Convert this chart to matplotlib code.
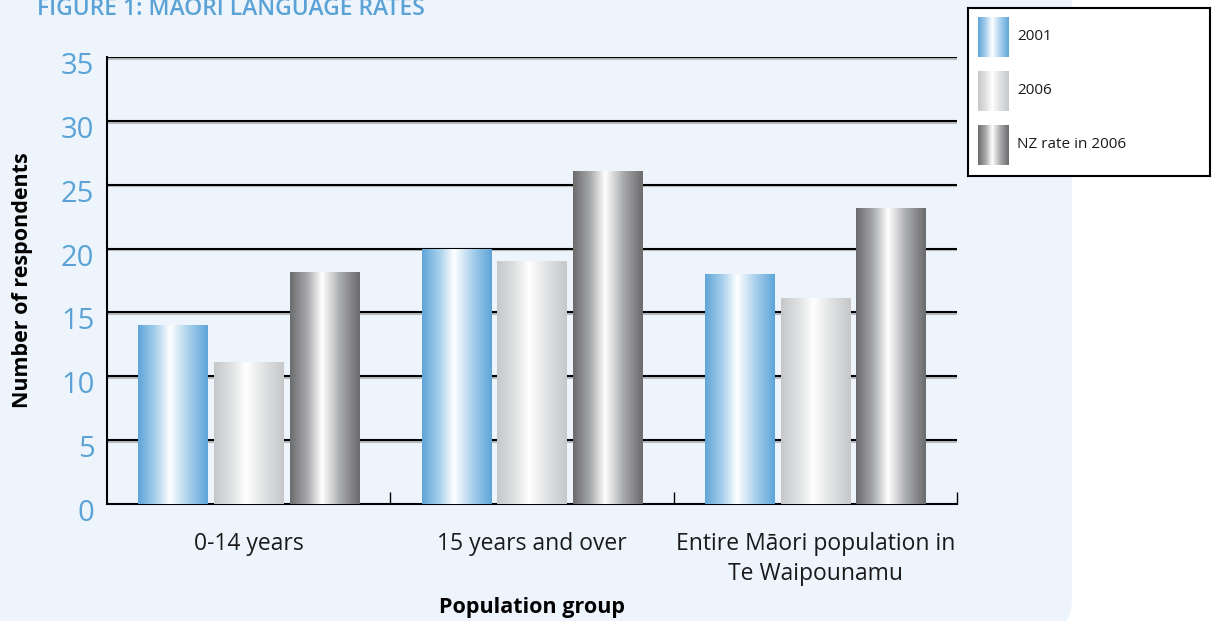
import numpy as np
import matplotlib
matplotlib.use("Agg")
import matplotlib.pyplot as plt
import matplotlib.patheffects as pe
import matplotlib.transforms as mtransforms
from matplotlib.colors import LinearSegmentedColormap
from matplotlib.patches import FancyBboxPatch, Rectangle

plt.rcParams['font.family'] = ['Open Sans', 'DejaVu Sans']

groups = ["0-14 years", "15 years and over", "Entire M\u0101ori population in\nTe Waipounamu"]
series = ["2001", "2006", "NZ rate in 2006"]
rate_2001 = [14, 20, 18]
rate_2006 = [11.1, 19, 16.1]
rate_nz = [18.2, 26.1, 23.2]
values = [rate_2001, rate_2006, rate_nz]

blue = "#5BA3D6"
# edge colour, mid tone for each cylinder-style gradient
shades = [("#5ea5d8", "#a9d0ec"), ("#c6c7c9", "#e0e1e2"), ("#6b6b6d", "#a9aaac")]


def make_cmap(edge, mid):
    return LinearSegmentedColormap.from_list(
        "g", [(0, edge), (0.25, mid), (0.46, "#ffffff"), (0.72, mid), (1, edge)])


W, H = 1216, 621
fig = plt.figure(figsize=(W / 100, H / 100), dpi=100)
fig.patch.set_facecolor("white")

# light blue panel with rounded lower-right corner
panel = FancyBboxPatch((-40, -12), 40 + 1072, H + 60,
                       boxstyle="round,pad=0,rounding_size=34",
                       transform=None, facecolor="#edf4fb",
                       edgecolor="none", zorder=-5)
fig.patches.append(panel)

fig.text(37 / W, 1 - 15 / H, "FIGURE 1: M\u0100ORI LANGUAGE RATES", color=blue,
         fontsize=16.5, fontweight="semibold", va="baseline", ha="left")

ax = fig.add_axes([107 / W, 1 - 504 / H, 850 / W, 447 / H])
ax.set_facecolor("none")

width = 0.244
step = 0.267
x = np.arange(len(groups)) + 0.5
grad = np.linspace(0, 1, 256).reshape(1, -1)
for i, vals in enumerate(values):
    cmap = make_cmap(*shades[i])
    bars = ax.bar(x + (i - 1) * step, vals, width, color="none", zorder=3)
    for b in bars:
        x0, y0 = b.get_x(), b.get_y()
        im = ax.imshow(grad, cmap=cmap, aspect="auto", zorder=3,
                       extent=[x0, x0 + b.get_width(), y0, y0 + b.get_height()])
        im.set_clip_path(b)
ax.set_xlim(0, 3)
ax.set_ylim(0, 35)

# horizontal rules with a soft grey shadow
for yv in range(5, 40, 5):
    ax.axhline(yv, color="black", lw=1.5, zorder=1,
               path_effects=[pe.SimpleLineShadow(offset=(0, -1.2), shadow_color="#b8bcc0", alpha=1),
                             pe.Normal()])

for s in ["top", "right"]:
    ax.spines[s].set_visible(False)
ax.spines["left"].set_linewidth(1.5)
ax.spines["bottom"].set_linewidth(1.5)

ax.set_yticks(range(0, 40, 5))
ax.tick_params(axis="y", length=0, labelsize=21, labelcolor=blue, pad=9)
# numbers sit a little below their rules
shift = mtransforms.ScaledTranslation(0, -6 / 100, fig.dpi_scale_trans)
for lab in ax.get_yticklabels():
    lab.set_transform(lab.get_transform() + shift)
ax.set_xticks(x)
ax.set_xticklabels(groups, fontsize=16.5, color="#1a1a1a", linespacing=1.35)
ax.tick_params(axis="x", which="major", length=0, pad=20)
ax.set_xticks([1, 2, 3], minor=True)
ax.tick_params(axis="x", which="minor", direction="in", length=9, width=1)

ax.set_ylabel("Number of respondents", fontsize=15.5, fontweight="bold")
ax.set_xlabel("Population group", fontsize=15.5, fontweight="bold", labelpad=8)
ax.yaxis.set_label_coords(-0.087, 0.5)

# legend box
lg = fig.add_axes([968 / W, 1 - 176 / H, 242 / W, 168 / H])
lg.set_facecolor("white")
for sp in lg.spines.values():
    sp.set_linewidth(1.5)
for i, name in enumerate(series):
    top = 9 + i * 54
    r = Rectangle((10, top), 31, 40, facecolor="none", edgecolor="none")
    lg.add_patch(r)
    im = lg.imshow(grad, cmap=make_cmap(*shades[i]), aspect="auto",
                   extent=[10, 41, top + 40, top])
    im.set_clip_path(r)
    lg.text(49, top + 20, name, fontsize=11, va="center", ha="left", color="#1a1a1a")
lg.set_xlim(0, 242)
lg.set_ylim(168, 0)
lg.set_xticks([])
lg.set_yticks([])

fig.savefig("out.png", dpi=100)
